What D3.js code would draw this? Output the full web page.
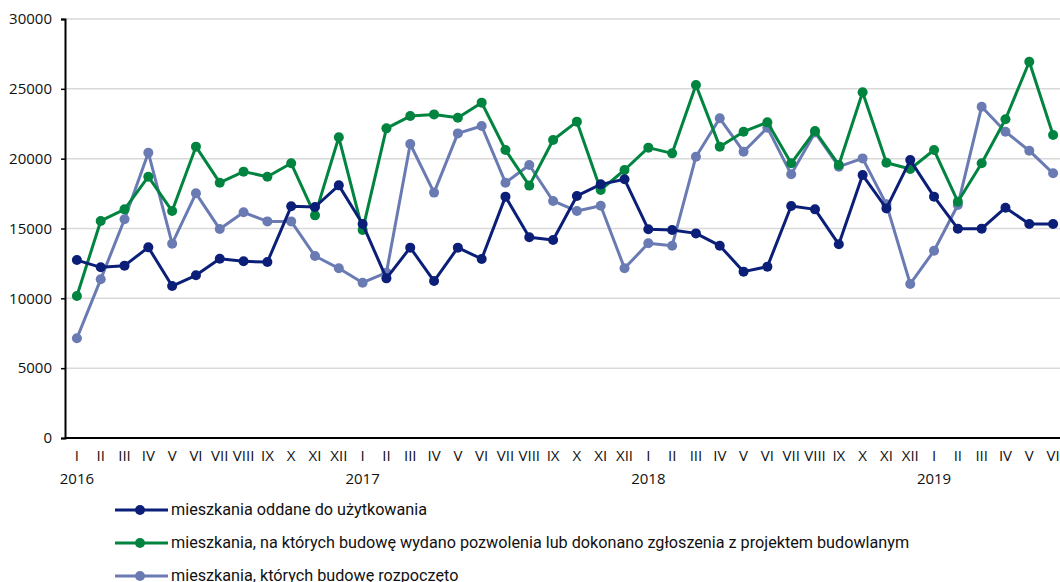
<!DOCTYPE html>
<html><head><meta charset="utf-8">
<script src="https://cdn.jsdelivr.net/npm/d3@7"></script>
<style>body{margin:0;background:#fff}svg{display:block}</style>
</head><body><svg id="c" width="1060" height="582"></svg>
<script>
const months = ["I","II","III","IV","V","VI","VII","VIII","IX","X","XI","XII"];
const years = ["2016","2017","2018","2019"];
const categories = [];
years.forEach((y,yi)=>months.forEach((m,mi)=>{ if(yi<3||mi<6) categories.push({m, y, first: mi===0}); }));
const yTicks = [0,5000,10000,15000,20000,25000,30000];
const oddane = [12740,12220,12340,13650,10880,11650,12840,12650,12600,16590,16540,18090,
 15320,11430,13630,11240,13630,12820,17280,14370,14180,17330,18160,18520,
 14940,14890,14650,13770,11910,12270,16610,16370,13870,18830,16440,19900,
 17280,14990,14990,16490,15320,15320];
const pozwolenia = [10170,15540,16370,18710,16250,20860,18280,19070,18710,19670,15940,21530,
 14890,22170,23050,23170,22930,24010,20620,18070,21340,22650,17760,19190,
 20790,20380,25270,20860,21930,22600,19670,21980,19550,24750,19710,19260,
 20620,16920,19670,22820,26940,21690];
const rozpoczeto = [7140,11360,15660,20430,13910,17520,14960,16160,15510,15510,13030,12150,
 11120,11840,21050,17570,21810,22340,18280,19550,16970,16250,16630,12150,
 13940,13770,20140,22890,20500,22220,18880,21880,19430,20020,16730,11030,
 13410,16680,23720,21930,20570,18950];
const seriesNames = ["mieszkania oddane do użytkowania",
 "mieszkania, na których budowę wydano pozwolenia lub dokonano zgłoszenia z projektem budowlanym",
 "mieszkania, których budowę rozpoczęto"];
const seriesColors = ["#0b1f78","#00843f","#6a7bb3"];
const seriesData = [oddane, pozwolenia, rozpoczeto];

const svg = d3.select("#c");
const x = d3.scaleBand().domain(d3.range(categories.length)).range([65,1065]);
const y = d3.scaleLinear().domain([0,30000]).range([438,19]);
const cx = i => x(i) + x.bandwidth()/2;

// gridlines
svg.append("g").selectAll("line").data(yTicks.filter(t=>t>0)).join("line")
  .attr("x1",65).attr("x2",1060).attr("y1",d=>y(d)).attr("y2",d=>y(d))
  .attr("stroke","#d9d9d9").attr("stroke-width",1.5);

// y axis
const ya = svg.append("g").attr("transform","translate(65,0)")
  .call(d3.axisLeft(y).tickValues(yTicks).tickSize(4).tickPadding(9).tickFormat(d3.format("d")));
ya.select(".domain").attr("stroke","#000").attr("stroke-width",2);
ya.selectAll(".tick line").attr("stroke","#000").attr("stroke-width",1.5);
ya.selectAll("text").attr("font-family","Open Sans").attr("font-size",15).attr("fill","#111");

// x axis
const xa = svg.append("g").attr("transform","translate(0,438)")
  .call(d3.axisBottom(x).tickSize(0).tickPadding(12).tickFormat(i=>categories[i].m));
xa.select(".domain").attr("stroke","#000").attr("stroke-width",2).attr("d","M65,0H1060");
xa.selectAll("text").attr("font-family","Open Sans").attr("font-size",15).attr("fill","#111");
svg.append("g").selectAll("text").data(categories.map((c,i)=>({c,i})).filter(d=>d.c.first)).join("text")
  .attr("x",d=>cx(d.i)).attr("y",484).attr("text-anchor","middle")
  .attr("font-family","Open Sans").attr("font-size",15).attr("fill","#111").text(d=>d.c.y);

// lines
const line = d3.line().x((d,i)=>cx(i)).y(d=>y(d));
[2,1,0].forEach(s=>{
  const g = svg.append("g");
  g.append("path").attr("d",line(seriesData[s])).attr("fill","none")
    .attr("stroke",seriesColors[s]).attr("stroke-width",3).attr("stroke-linejoin","round");
  g.selectAll("circle").data(seriesData[s]).join("circle")
    .attr("cx",(d,i)=>cx(i)).attr("cy",d=>y(d)).attr("r",5).attr("fill",seriesColors[s]);
});

// legend
const lg = svg.append("g");
seriesNames.forEach((n,i)=>{
  const yy = 510 + i*33;
  lg.append("line").attr("x1",115).attr("x2",168).attr("y1",yy).attr("y2",yy)
    .attr("stroke",seriesColors[i]).attr("stroke-width",3);
  lg.append("circle").attr("cx",140).attr("cy",yy).attr("r",5).attr("fill",seriesColors[i]);
  lg.append("text").attr("x",171).attr("y",yy+5).attr("font-family","Roboto").attr("font-size",16.2)
    .attr("fill","#111").text(n);
});
</script></body></html>
